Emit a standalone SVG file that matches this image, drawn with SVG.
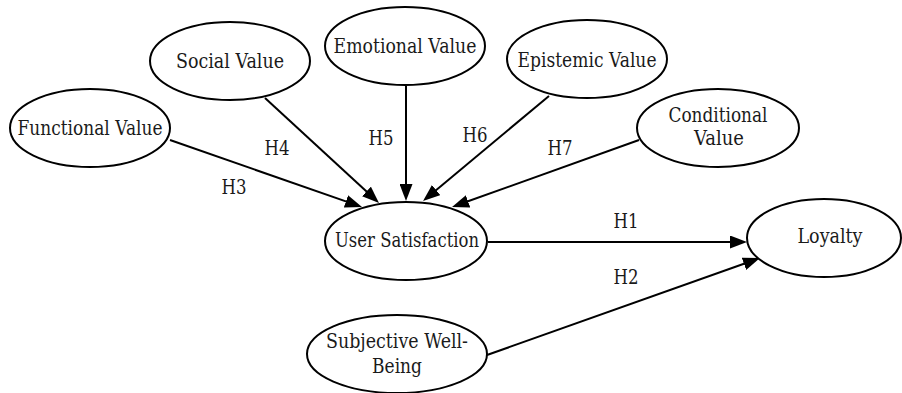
<svg xmlns="http://www.w3.org/2000/svg" width="902" height="393" viewBox="0 0 902 393">
<style>
.node ellipse{fill:#fff;stroke:#000;stroke-width:2}
text{font-family:'DejaVu Serif','Noto Serif',serif;font-size:19.5px;fill:#1a1a1a;text-anchor:middle}
.edges line{stroke:#000;stroke-width:2;marker-end:url(#arr)}
</style>
<defs>
<marker id="arr" markerUnits="userSpaceOnUse" markerWidth="17" markerHeight="13" refX="6" refY="6.5" orient="auto">
<path d="M0,0 L17,6.5 L0,13 z" fill="#000"/>
</marker>
</defs>
<rect width="902" height="393" fill="#fff"/>
<g class="edges" id="connectors">
<line x1="170" y1="140" x2="351.6" y2="203.4"/>
<line x1="265" y1="98" x2="370.9" y2="195.5"/>
<line x1="406" y1="86" x2="406" y2="190"/>
<line x1="549" y1="96" x2="431.5" y2="193.9"/>
<line x1="639" y1="140" x2="462.4" y2="203.3"/>
<line x1="488" y1="242" x2="736" y2="242"/>
<line x1="487" y1="355" x2="749.6" y2="261.8"/>
</g>
<g id="labels">
<text x="234" y="194" textLength="25" lengthAdjust="spacingAndGlyphs">H3</text>
<text x="277" y="155" textLength="25" lengthAdjust="spacingAndGlyphs">H4</text>
<text x="381" y="145" textLength="25" lengthAdjust="spacingAndGlyphs">H5</text>
<text x="475" y="142" textLength="25" lengthAdjust="spacingAndGlyphs">H6</text>
<text x="560" y="155" textLength="25" lengthAdjust="spacingAndGlyphs">H7</text>
<text x="626" y="228" textLength="25" lengthAdjust="spacingAndGlyphs">H1</text>
<text x="626" y="284" textLength="25" lengthAdjust="spacingAndGlyphs">H2</text>
</g>
<g class="node" id="functional"><ellipse cx="90" cy="128" rx="80" ry="39"/><text x="90" y="135" textLength="145" lengthAdjust="spacingAndGlyphs">Functional Value</text></g>
<g class="node" id="social"><ellipse cx="230" cy="61" rx="80" ry="39"/><text x="230" y="68" textLength="108" lengthAdjust="spacingAndGlyphs">Social Value</text></g>
<g class="node" id="emotional"><ellipse cx="405" cy="46" rx="80" ry="39"/><text x="405" y="53" textLength="143" lengthAdjust="spacingAndGlyphs">Emotional Value</text></g>
<g class="node" id="epistemic"><ellipse cx="587" cy="59" rx="80" ry="39"/><text x="587" y="67" textLength="139" lengthAdjust="spacingAndGlyphs">Epistemic Value</text></g>
<g class="node" id="conditional"><ellipse cx="718" cy="128" rx="81" ry="39"/><text x="718" y="122" textLength="99" lengthAdjust="spacingAndGlyphs">Conditional</text><text x="719" y="145" textLength="50" lengthAdjust="spacingAndGlyphs">Value</text></g>
<g class="node" id="satisfaction"><ellipse cx="406" cy="241" rx="81" ry="39"/><text x="407" y="247" textLength="144" lengthAdjust="spacingAndGlyphs">User Satisfaction</text></g>
<g class="node" id="loyalty"><ellipse cx="824" cy="238" rx="77" ry="39"/><text x="830" y="243" textLength="65" lengthAdjust="spacingAndGlyphs">Loyalty</text></g>
<g class="node" id="wellbeing"><ellipse cx="397" cy="354" rx="90" ry="39"/><text x="397" y="348" textLength="142" lengthAdjust="spacingAndGlyphs">Subjective Well-</text><text x="397" y="373" textLength="50" lengthAdjust="spacingAndGlyphs">Being</text></g>
</svg>
